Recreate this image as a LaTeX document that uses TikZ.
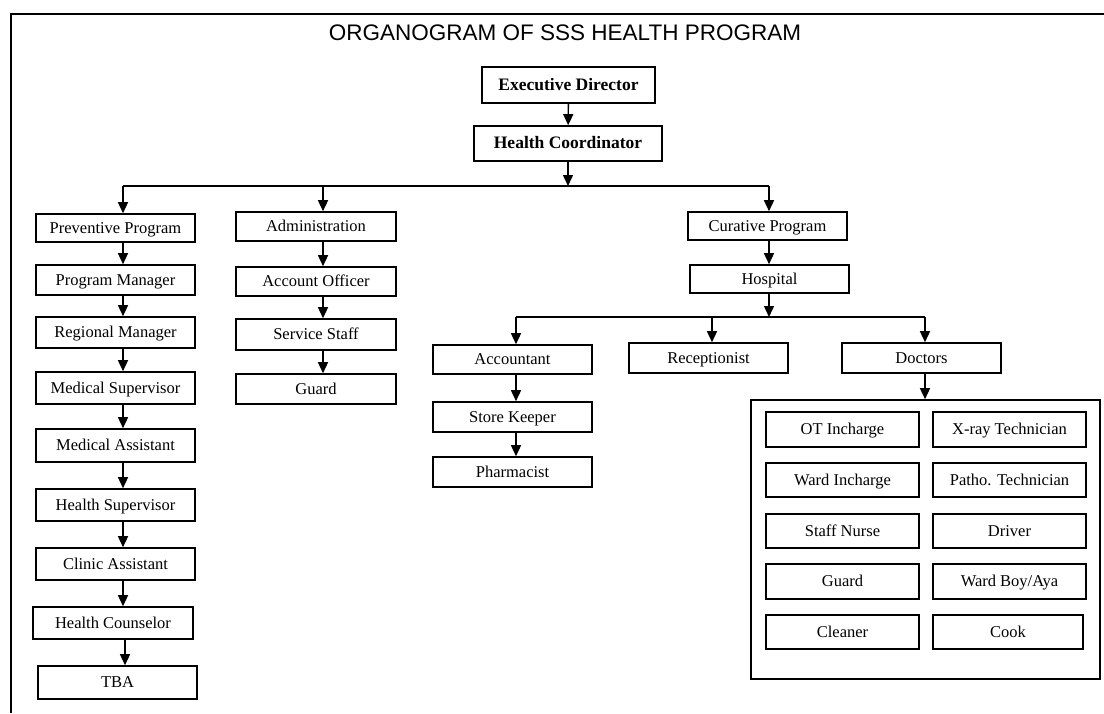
\documentclass[tikz,border=0pt]{standalone}
\usepackage{fontspec}
\setmainfont{Liberation Serif}
\newfontfamily\titlefont{Liberation Sans}
\usetikzlibrary{arrows.meta}
\tikzset{
  box/.style={draw, line width=1.6pt, inner sep=0pt, align=center,
    text height=11pt, text depth=0.5pt,
    font=\fontsize{16.5}{18}\selectfont},
  topbox/.style={box, font=\fontsize{17.5}{19}\selectfont\bfseries},
  arr/.style={line width=1.4pt, -{Triangle[width=10pt,length=11pt]}},
  bus/.style={line width=1.4pt},
  frameline/.style={line width=2.2pt},
}
\begin{document}
\begin{tikzpicture}[x=1pt,y=-1pt]
\useasboundingbox (0,0) rectangle (1104,713);
\fill[white] (0,0) rectangle (1104,713);
% outer frame (top and left only)
\coordinate (fTL) at (11,14);
\coordinate (fTR) at (1104,14);
\coordinate (fBL) at (11,713);
\draw[frameline] (fTR) -- (fTL) -- (fBL);
\node[font=\titlefont\fontsize{22.5}{25}\selectfont] (title) at (565,33) {ORGANOGRAM OF SSS HEALTH PROGRAM};

% top
\node[topbox, minimum width=173pt, minimum height=36pt] (ed) at (568.5,85) {Executive Director};
\node[topbox, minimum width=188pt, minimum height=35pt] (hc) at (568,143.5) {Health Coordinator};

% column coordinates
\coordinate (colA) at (123,0);
\coordinate (colB) at (323,0);
\coordinate (colC) at (769,0);
\coordinate (colD) at (516,0);
\coordinate (colE) at (712,0);
\coordinate (colF) at (925,0);
\coordinate (bus1) at (568,186);
\coordinate (bus2) at (769,317);

% preventive column
\node[box, minimum width=159pt, minimum height=28pt] (pp) at (115.5,228) {Preventive Program};
\node[box, minimum width=159pt, minimum height=30pt] (pm) at (115.5,280) {Program Manager};
\node[box, minimum width=159pt, minimum height=31pt] (rm) at (115.5,332.5) {Regional Manager};
\node[box, minimum width=159pt, minimum height=32pt] (ms) at (115.5,388) {Medical Supervisor};
\node[box, minimum width=159pt, minimum height=33pt] (ma) at (115.5,445.5) {Medical Assistant};
\node[box, minimum width=159pt, minimum height=32pt] (hs) at (115.5,505) {Health Supervisor};
\node[box, minimum width=159pt, minimum height=32pt] (ca) at (115.5,564) {Clinic Assistant};
\node[box, minimum width=160pt, minimum height=32pt] (hco) at (113,623) {Health Counselor};
\node[box, minimum width=159pt, minimum height=33pt] (tba) at (117.5,682.5) {TBA};

% administration column
\node[box, minimum width=160pt, minimum height=29pt] (adm) at (316,226.5) {Administration};
\node[box, minimum width=160pt, minimum height=29pt] (ao) at (316,281.5) {Account Officer};
\node[box, minimum width=160pt, minimum height=31pt] (ss) at (316,334.5) {Service Staff};
\node[box, minimum width=160pt, minimum height=30pt] (gd) at (316,389) {Guard};

% curative column
\node[box, minimum width=159pt, minimum height=28pt] (cp) at (767.5,226) {Curative Program};
\node[box, minimum width=159pt, minimum height=28pt] (hosp) at (769.5,279) {Hospital};

\node[box, minimum width=159pt, minimum height=29pt] (acc) at (512.5,359.5) {Accountant};
\node[box, minimum width=159pt, minimum height=30pt] (sk) at (512.5,417) {Store Keeper};
\node[box, minimum width=159pt, minimum height=30pt] (ph) at (512.5,472) {Pharmacist};
\node[box, minimum width=159pt, minimum height=30pt] (rec) at (708.5,358) {Receptionist};
\node[box, minimum width=159pt, minimum height=30pt] (doc) at (921.5,358) {Doctors};

% doctors frame
\node[draw, line width=1.6pt, minimum width=349pt, minimum height=279pt, inner sep=0pt] (dfr) at (925.5,539.5) {};
\node[box, minimum width=153pt, minimum height=35pt] (d1) at (842.5,429.5) {OT Incharge};
\node[box, minimum width=153pt, minimum height=35pt] (d2) at (1009.5,429.5) {X-ray Technician};
\node[box, minimum width=153pt, minimum height=34pt] (d3) at (842.5,480) {Ward Incharge};
\node[box, minimum width=153pt, minimum height=34pt] (d4) at (1009.5,480) {Patho. Technician};
\node[box, minimum width=153pt, minimum height=34pt] (d5) at (842.5,531) {Staff Nurse};
\node[box, minimum width=153pt, minimum height=34pt] (d6) at (1009.5,531) {Driver};
\node[box, minimum width=153pt, minimum height=35pt] (d7) at (842.5,581.5) {Guard};
\node[box, minimum width=153pt, minimum height=35pt] (d8) at (1009.5,581.5) {Ward Boy/Aya};
\node[box, minimum width=153pt, minimum height=34pt] (d9) at (842.5,632) {Cleaner};
\node[box, minimum width=150pt, minimum height=34pt] (d10) at (1008,632) {Cook};

% connectors: top
\draw[arr] (ed) -- (hc);
\draw[arr] (hc) -- (bus1);
\draw[bus] (bus1 -| colA) -- (bus1 -| colC);
\draw[arr] (bus1 -| colA) -- (pp.north -| colA);
\draw[arr] (bus1 -| colB) -- (adm.north -| colB);
\draw[arr] (bus1 -| colC) -- (cp.north -| colC);

% preventive chain
\draw[arr] (pp.south -| colA) -- (pm.north -| colA);
\draw[arr] (pm.south -| colA) -- (rm.north -| colA);
\draw[arr] (rm.south -| colA) -- (ms.north -| colA);
\draw[arr] (ms.south -| colA) -- (ma.north -| colA);
\draw[arr] (ma.south -| colA) -- (hs.north -| colA);
\draw[arr] (hs.south -| colA) -- (ca.north -| colA);
\draw[arr] (ca.south -| colA) -- (hco.north -| colA);
\draw[arr] ([xshift=2pt]hco.south -| colA) -- ([xshift=2pt]tba.north -| colA);

% admin chain
\draw[arr] (adm.south -| colB) -- (ao.north -| colB);
\draw[arr] (ao.south -| colB) -- (ss.north -| colB);
\draw[arr] (ss.south -| colB) -- (gd.north -| colB);

% curative chain
\draw[arr] (cp.south -| colC) -- (hosp.north -| colC);
\draw[arr] (hosp.south -| colC) -- (bus2);
\draw[bus] (bus2 -| colD) -- (bus2 -| colF);
\draw[arr] (bus2 -| colD) -- (acc.north -| colD);
\draw[arr] (bus2 -| colE) -- (rec.north -| colE);
\draw[arr] (bus2 -| colF) -- (doc.north -| colF);
\draw[arr] (acc.south -| colD) -- (sk.north -| colD);
\draw[arr] (sk.south -| colD) -- (ph.north -| colD);
\draw[arr] (doc.south -| colF) -- (dfr.north -| colF);
\end{tikzpicture}
\end{document}
